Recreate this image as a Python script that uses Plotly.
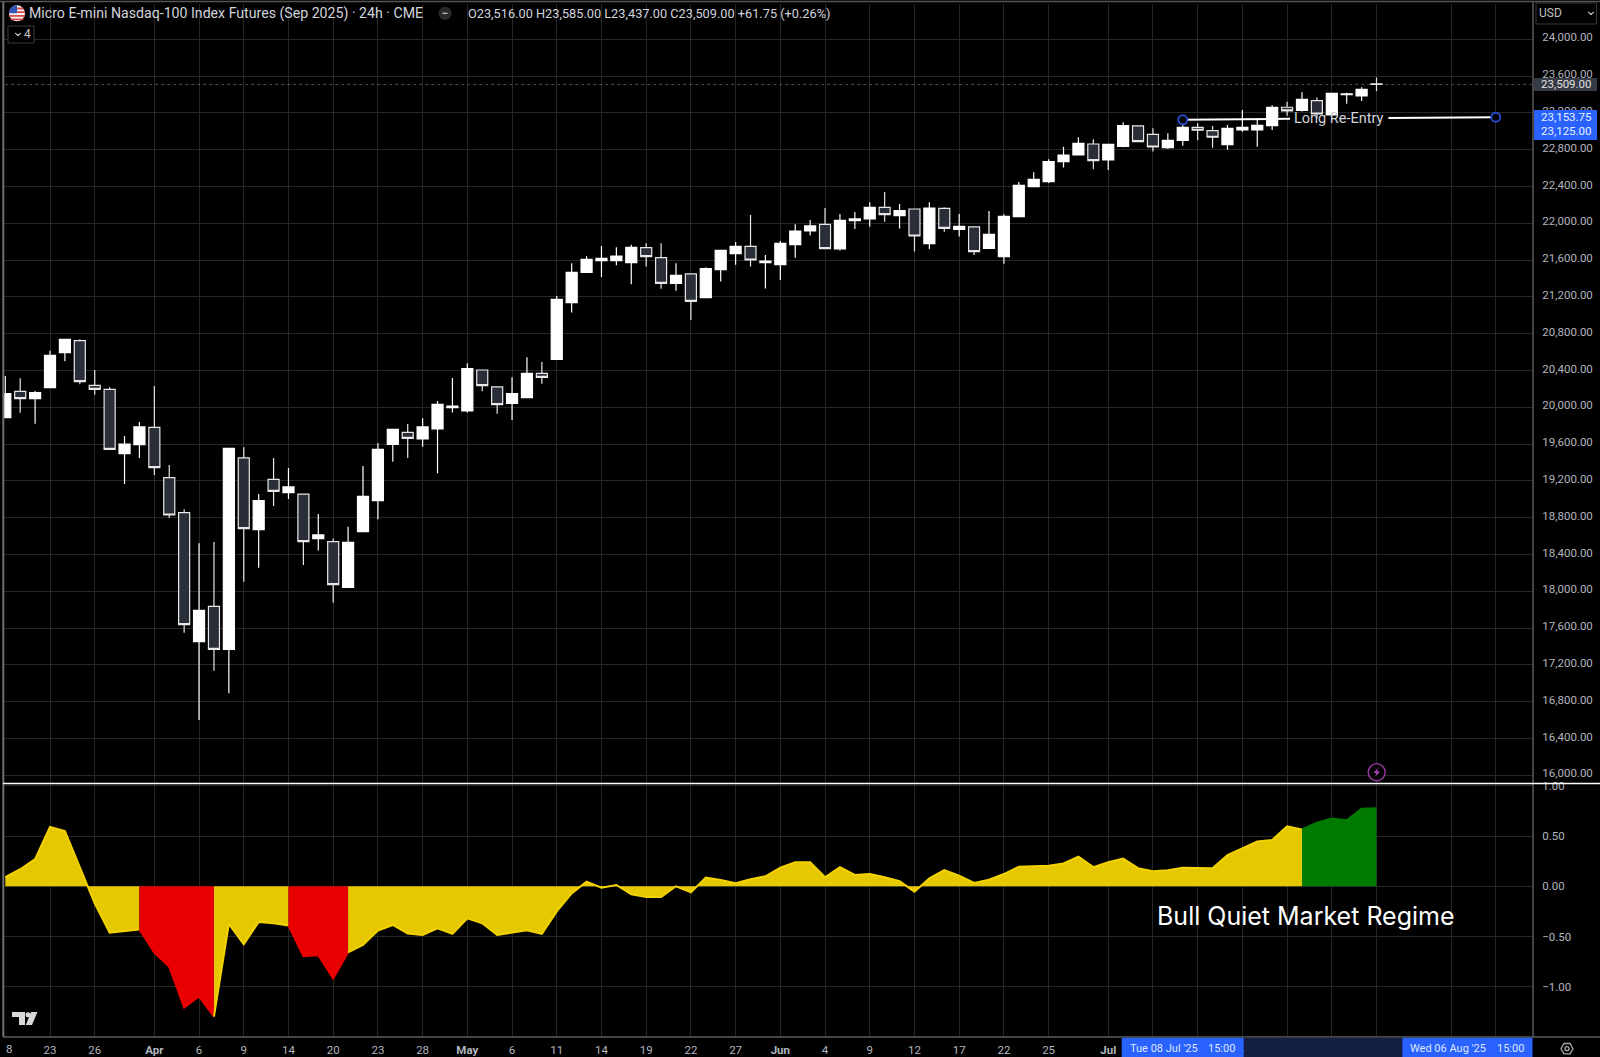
#!/usr/bin/env python3
# Micro E-mini Nasdaq-100 daily chart with the market regime indicator below it

import plotly.graph_objects as go

W, H = 1600, 1057

# ---- candles, one per bar from the left edge of the chart ----
opens = [19887, 20173, 20094, 20213, 20594, 20724, 20239, 20195, 19496, 19594,
         19782, 19235, 18855, 17452, 17836, 17369, 19449, 18670, 19217, 19072,
         19057, 18572, 18539, 18043, 18648, 18985, 19597, 19728, 19655, 19764,
         19996, 19960, 20405, 20221, 20043, 20105, 20369, 20521, 21137, 21467,
         21594, 21594, 21572, 21735, 21626, 21347, 21449, 21192, 21496, 21670,
         21750, 21572, 21550, 21768, 21916, 21989, 21721, 22029, 22047, 22174,
         22083, 22155, 21779, 22163, 21934, 21960, 21728, 21637, 22072, 22398,
         22452, 22670, 22742, 22862, 22688, 22837, 23058, 22967, 22822, 22902,
         23043, 23007, 22855, 23014, 23014, 23061, 23261, 23228, 23333, 23177,
         23398, 23384, 23516]
highs = [20340, 20315, 20177, 20615, 20739, 20739, 20405, 20217, 19688, 19840,
         20231, 19372, 18891, 18521, 18536, 19561, 19565, 19058, 19449, 19340,
         19057, 18840, 18575, 18702, 19362, 19608, 19760, 19818, 19880, 20069,
         20319, 20478, 20405, 20221, 20326, 20543, 20492, 21210, 21565, 21641,
         21753, 21739, 21768, 21782, 21782, 21565, 21449, 21521, 21706, 21797,
         22090, 21655, 21808, 21989, 22036, 22166, 22101, 22123, 22228, 22340,
         22210, 22155, 22228, 22174, 22101, 21960, 22134, 22097, 22449, 22554,
         22695, 22833, 22934, 22913, 22858, 23097, 23058, 23032, 22978, 23086,
         23086, 23058, 23069, 23232, 23123, 23282, 23322, 23424, 23366, 23413,
         23420, 23478, 23585]
lows = [19880, 19941, 19822, 20210, 20499, 20249, 20137, 19540, 19166, 19449,
        19264, 18797, 17550, 16601, 17137, 16891, 18104, 18257, 18927, 19003,
        18286, 18442, 17876, 18043, 18648, 18782, 19409, 19449, 19572, 19282,
        19942, 19942, 20174, 19931, 19862, 20105, 20257, 20521, 21029, 21467,
        21416, 21543, 21336, 21529, 21289, 21268, 20949, 21192, 21366, 21550,
        21529, 21290, 21384, 21626, 21866, 21724, 21703, 21938, 21963, 22018,
        21942, 21692, 21721, 21909, 21855, 21655, 21728, 21561, 22065, 22391,
        22438, 22605, 22742, 22587, 22579, 22826, 22880, 22779, 22808, 22844,
        22902, 22822, 22800, 22996, 22833, 23014, 23170, 23214, 23141, 23177,
        23300, 23329, 23437]
closes = [20148, 20094, 20159, 20565, 20739, 20278, 20195, 19543, 19601, 19786,
          19344, 18829, 17637, 17793, 17369, 19554, 18681, 18985, 19086, 19134,
          18539, 18612, 18072, 18532, 19032, 19543, 19760, 19663, 19786, 20032,
          20014, 20420, 20235, 20029, 20148, 20369, 20326, 21173, 21467, 21608,
          21619, 21644, 21739, 21637, 21347, 21434, 21152, 21507, 21706, 21750,
          21601, 21590, 21782, 21916, 21971, 21724, 22032, 22047, 22174, 22094,
          22137, 21862, 22166, 21945, 21967, 21692, 21880, 22076, 22413, 22478,
          22670, 22742, 22869, 22681, 22858, 23061, 22887, 22829, 22902, 23043,
          23011, 22935, 23032, 23043, 23065, 23261, 23221, 23348, 23188, 23413,
          23406, 23456, 23509]

# ---- regime indicator, same bars ----
regime = [0.09, 0.17, 0.27, 0.59, 0.55, 0.19, -0.17, -0.46, -0.447, -0.43,
          -0.66, -0.80, -1.205, -1.096, -1.295, -0.374, -0.576, -0.354, -0.368, -0.39,
          -0.695, -0.685, -0.917, -0.656, -0.583, -0.44, -0.384, -0.47, -0.483, -0.417,
          -0.473, -0.318, -0.368, -0.483, -0.457, -0.437, -0.473, -0.25, -0.07, 0.046,
          -0.013, 0.013, -0.08, -0.106, -0.106, 0.0, -0.06, 0.086, 0.063, 0.03,
          0.07, 0.10, 0.185, 0.238, 0.238, 0.09, 0.19, 0.113, 0.122, 0.09,
          0.05, -0.053, 0.08, 0.162, 0.106, 0.033, 0.066, 0.122, 0.195, 0.20,
          0.205, 0.228, 0.295, 0.19, 0.24, 0.275, 0.18, 0.15, 0.16, 0.185,
          0.18, 0.18, 0.31, 0.375, 0.445, 0.46, 0.596, 0.566, 0.632, 0.675,
          0.656, 0.77, 0.775]
# (first bar, last bar, fill, line)
regime_spans = [(0, 9, '#e6c800', '#f2d200'),
                (9, 14, '#e80000', '#e80000'),
                (14, 19, '#e6c800', '#f2d200'),
                (19, 23, '#e80000', '#e80000'),
                (23, 87, '#e6c800', '#f2d200'),
                (87, 92, '#007a00', '#007a00')]

# ---- axes ----
x_tick_bars = [3, 6, 10, 13, 16, 19, 22, 25, 28, 31, 34, 37, 40, 43, 46, 49, 52, 55, 58,
               61, 64, 67, 70, 74, 77, 80, 83, 86, 89, 92, 97, 100]
x_tick_text = ['23', '26', '<b>Apr</b>', '6', '9', '14', '20', '23', '28', '<b>May</b>',
               '6', '11', '14', '19', '22', '27', '<b>Jun</b>', '4', '9', '12', '17', '22',
               '25', '<b>Jul</b>', '', '', '14', '17', '22', '27', '', '']
price_ticks = list(range(16000, 24400, 400))
regime_ticks = [1, 0.5, 0, -0.5, -1]

# ---- long re-entry drawing ----
entry_bars = [79, 86.2, None, 92.8, 100]
entry_prices = [23125, 23135, None, 23144, 23153.75]
anchor_bars = [79, 100]
anchor_prices = [23125, 23153.75]
last_close = 23509

BG = '#000000'
GRID = '#262626'
AXIS_TEXT = '#b2b5be'
FONT = 'Roboto, Inter, sans-serif'
BLUE = '#2962ff'


def px(x):
    return x / W


def py(y):
    return 1 - y / H


def poly(points):
    return 'M' + ' L'.join(f'{px(x):.5f},{py(y):.5f}' for x, y in points) + ' Z'


def rect(x0, y0, x1, y1, fill, line=None):
    return dict(type='rect', xref='paper', yref='paper', x0=px(x0), x1=px(x1), y0=py(y0), y1=py(y1),
                fillcolor=fill, line=dict(color=line or fill, width=1 if line else 0), layer='above')


def circle(cx, cy, r, fill, line=None, width=1):
    return dict(type='circle', xref='paper', yref='paper', x0=px(cx - r), x1=px(cx + r),
                y0=py(cy + r), y1=py(cy - r), fillcolor=fill,
                line=dict(color=line or fill, width=width if line else 0), layer='above')


def hline(y, x0, x1, color, width=1):
    return dict(type='line', xref='paper', yref='paper', x0=px(x0), x1=px(x1), y0=py(y), y1=py(y),
                line=dict(color=color, width=width), layer='above')


def vline(x, y0, y1, color, width=1):
    return dict(type='line', xref='paper', yref='paper', x0=px(x), x1=px(x), y0=py(y0), y1=py(y1),
                line=dict(color=color, width=width), layer='above')


def path(points, fill, line=None, width=1):
    return dict(type='path', xref='paper', yref='paper', path=poly(points), fillcolor=fill,
                line=dict(color=line or fill, width=width if line else 0), layer='above')


def label(x, y, text, size=11.5, color=AXIS_TEXT, anchor='left', family=FONT):
    return dict(xref='paper', yref='paper', x=px(x), y=py(y), text=text, showarrow=False,
                xanchor=anchor, yanchor='middle', font=dict(size=size, color=color, family=family),
                borderpad=0, borderwidth=0)


fig = go.Figure()

bars = list(range(len(closes)))
fig.add_trace(go.Candlestick(
    x=bars, open=opens, high=highs, low=lows, close=closes, xaxis='x', yaxis='y',
    increasing=dict(line=dict(color='#ffffff', width=1.2), fillcolor='#ffffff'),
    decreasing=dict(line=dict(color='#e8e8e8', width=1.2), fillcolor='#2a2e39'),
    showlegend=False, hoverinfo='skip'
))

for first, last, fill, line in regime_spans:
    fig.add_trace(go.Scatter(
        x=bars[first:last + 1], y=regime[first:last + 1], mode='lines', xaxis='x', yaxis='y2',
        fill='tozeroy', fillcolor=fill, line=dict(color=line, width=2),
        showlegend=False, hoverinfo='skip'
    ))

fig.add_trace(go.Scatter(
    x=[bars[0], 102.5], y=[last_close, last_close], mode='lines', xaxis='x', yaxis='y',
    line=dict(color='rgba(190,190,190,0.4)', width=1, dash='dot'), showlegend=False, hoverinfo='skip'
))
fig.add_trace(go.Scatter(
    x=entry_bars, y=entry_prices, mode='lines', xaxis='x', yaxis='y',
    line=dict(color='#ffffff', width=2), showlegend=False, hoverinfo='skip'
))
fig.add_trace(go.Scatter(
    x=anchor_bars, y=anchor_prices, mode='markers', xaxis='x', yaxis='y',
    marker=dict(size=9, color=BG, line=dict(color='#2448c8', width=2)), showlegend=False, hoverinfo='skip'
))

shapes = [
    # pane frames
    vline(3.3, 2, 1037, '#707070', 2),
    hline(1.5, 0, W, '#555555', 1.5),
    vline(1533, 2, 1037, '#5a5a5a', 1.5),
    hline(1037, 3, 1600, '#5a5a5a', 1.5),
    hline(783.5, 3, 1600, '#ffffff', 1.5),
    # price axis labels
    rect(1534, 78, 1597, 91, '#363a45'),
    rect(1534, 110, 1597, 140, BLUE),
    # USD button
    dict(type='rect', xref='paper', yref='paper', x0=px(1536), x1=px(1596.5), y0=py(24), y1=py(3),
         line=dict(color='#3a3a3a', width=1), fillcolor=BG, layer='above'),
    # time axis range
    rect(1243.7, 1037.7, 1402.3, 1057, '#132042'),
    rect(1121.7, 1037.7, 1243.7, 1057, BLUE),
    rect(1402.3, 1037.7, 1532.5, 1057, BLUE),
    # legend collapse button
    dict(type='rect', xref='paper', yref='paper', x0=px(8), x1=px(34), y0=py(43), y1=py(26),
         line=dict(color='#3a3a3a', width=1), fillcolor=BG, layer='above'),
    circle(445, 13.3, 6.5, '#2a2a2a'),
    hline(13.3, 442.5, 447.5, '#b0b0b0', 1.5),
    # flag
    circle(17, 13.3, 8, '#f4f4f4'),
    path([(10.2, 9.5), (23.8, 9.5), (22.5, 7.5), (11.5, 7.5)], '#d84a4a'),
    path([(9, 13), (25, 13), (25, 11.2), (9, 11.2)], '#d84a4a'),
    path([(9, 16.8), (25, 16.8), (25, 15), (9, 15)], '#d84a4a'),
    path([(11.3, 20.2), (22.7, 20.2), (24, 18.6), (10, 18.6)], '#d84a4a'),
    path([(9, 13.3), (17, 13.3), (17, 5.3), (13, 6.2), (10, 9)], '#2f55b8'),
    # lightning marker
    circle(1376.7, 772.3, 8.5, BG, '#93379e', 1.5),
    path([(1378.5, 767.5), (1373.5, 773), (1376.5, 773), (1375, 777), (1380, 771.5), (1377, 771.5)], '#b24ac0'),
    # TradingView mark
    path([(12, 1012), (25, 1012), (25, 1025), (19, 1025), (19, 1017), (12, 1017)], '#d8d8d8'),
    circle(28, 1014.8, 2.5, '#d8d8d8'),
    path([(31, 1012), (37.5, 1012), (32, 1025), (25.8, 1025)], '#d8d8d8'),
    # settings gear
    path([(1573, 1048.7), (1570, 1043.5), (1564, 1043.5), (1561, 1048.7), (1564, 1053.9), (1570, 1053.9)],
         BG, '#a8a8a8', 1.3),
    circle(1567, 1048.7, 2, BG, '#a8a8a8', 1.3),
    # small chevrons
    path([(1588, 12), (1591, 15), (1594, 12), (1591, 14)], BG, '#c0c0c0', 1),
    path([(15, 33), (18, 36), (21, 33), (18, 35)], BG, '#c0c0c0', 1),
]

annotations = [
    label(28.5, 13.3, 'Micro E-mini Nasdaq-100 Index Futures (Sep 2025) · 24h · CME', size=14.15, color='#d1d4dc'),
    label(467.5, 13.3, 'O23,516.00 H23,585.00 L23,437.00 C23,509.00 +61.75 (+0.26%)', size=12.75, color='#d1d4dc'),
    label(24, 34.5, '4', size=12, color='#c8c8c8'),
    label(1539, 13.3, 'USD', size=12, color='#c0c0c0'),
    label(1540.5, 84.5, '23,509.00', color='#e0e0e0'),
    label(1540.5, 117.2, '23,153.75', color='#e8eeff'),
    label(1540.5, 131.3, '23,125.00', color='#e8eeff'),
    label(1294, 118, 'Long Re-Entry', size=14.5, color='#d1d4dc'),
    label(1157, 915.7, 'Bull Quiet Market Regime', size=25, color='#ffffff', family='Inter, sans-serif'),
    label(5.7, 1049, '8'),
    label(1129.5, 1048.5, "Tue 08 Jul '25", size=11, color='#dfe6ff'),
    label(1208, 1048.5, '15:00', size=11, color='#dfe6ff'),
    label(1410, 1048.5, "Wed 06 Aug '25", size=11, color='#dfe6ff'),
    label(1497, 1048.5, '15:00', size=11, color='#dfe6ff'),
]

fig.update_layout(
    width=W, height=H,
    autosize=False,
    margin=dict(l=0, r=0, t=0, b=0, pad=0, autoexpand=False),
    paper_bgcolor=BG, plot_bgcolor=BG,
    showlegend=False,
    boxgap=0.26, boxgroupgap=0,
    font=dict(family=FONT, size=11.5, color=AXIS_TEXT),
    xaxis=dict(
        domain=[px(3.7), px(1533)], range=[-0.107, 102.5], anchor='y2',
        rangeslider=dict(visible=False),
        tickmode='array', tickvals=x_tick_bars, ticktext=x_tick_text,
        ticks='outside', ticklen=2, tickcolor='rgba(0,0,0,0)', tickangle=0,
        tickfont=dict(size=11.5, color=AXIS_TEXT),
        showgrid=True, gridcolor=GRID, gridwidth=1, zeroline=False, showline=False
    ),
    yaxis=dict(
        domain=[py(783), py(3.5)], range=[15916, 24389], side='right', anchor='x',
        tickmode='array', tickvals=price_ticks, tickformat=',.2f',
        ticks='outside', ticklen=6, tickcolor='rgba(0,0,0,0)', ticklabelshift=-2,
        tickfont=dict(size=11.5, color=AXIS_TEXT),
        showgrid=True, gridcolor=GRID, gridwidth=1, zeroline=False, showline=False
    ),
    yaxis2=dict(
        domain=[py(1036.7), py(784)], range=[-1.495, 1.017], side='right', anchor='x',
        tickmode='array', tickvals=regime_ticks, tickformat='.2f',
        ticks='outside', ticklen=6, tickcolor='rgba(0,0,0,0)',
        tickfont=dict(size=11.5, color=AXIS_TEXT),
        showgrid=True, gridcolor=GRID, gridwidth=1, zeroline=False, showline=False
    ),
    shapes=shapes,
    annotations=annotations,
)

fig.write_html("out.html", config=dict(displayModeBar=False),
               post_script="document.body.style.margin='0';")
